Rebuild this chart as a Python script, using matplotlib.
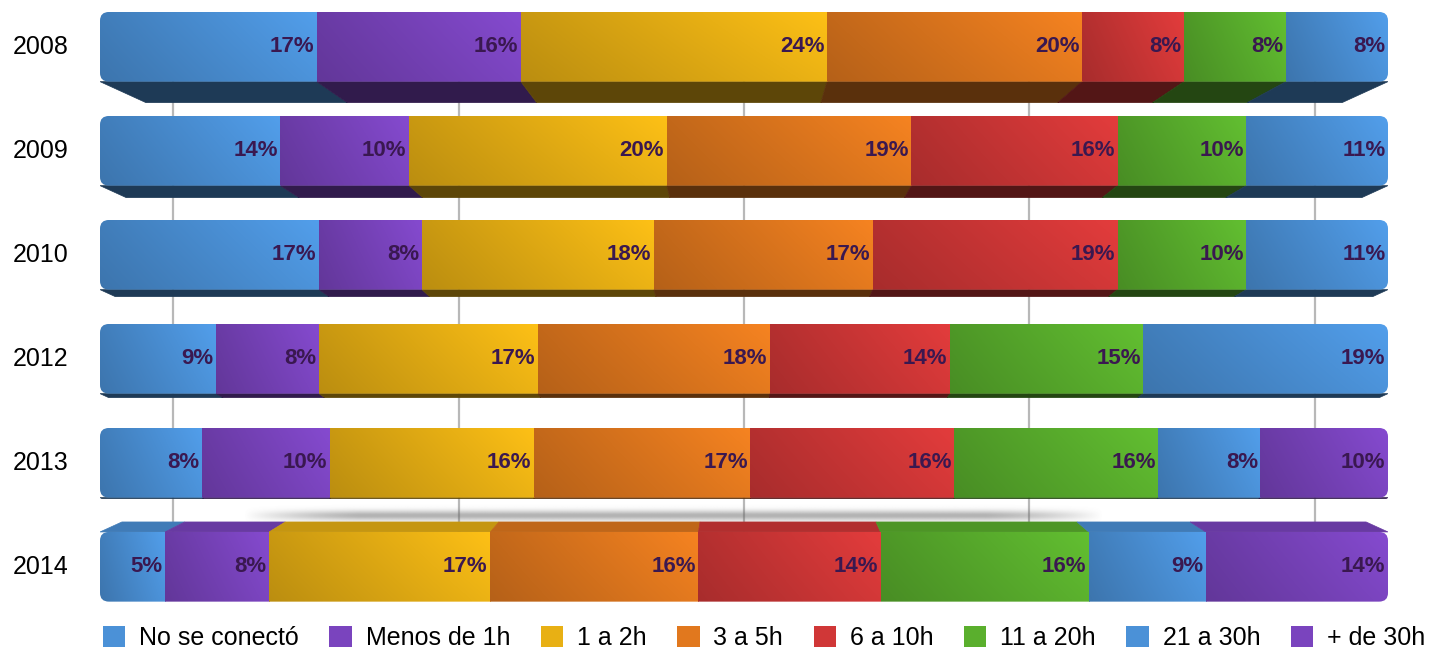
import numpy as np
import matplotlib
matplotlib.use('Agg')
import matplotlib.pyplot as plt
from matplotlib.patches import FancyBboxPatch, Polygon, Patch
from matplotlib.colors import to_rgb

plt.rcParams['font.family'] = ['Liberation Sans', 'DejaVu Sans']

# datos
years = ['2008', '2009', '2010', '2012', '2013', '2014']
categories = ['No se conectó', 'Menos de 1h', '1 a 2h', '3 a 5h',
              '6 a 10h', '11 a 20h', '21 a 30h', '+ de 30h']
no_conecto = [17, 14, 17, 9, 8, 5]
menos_1h = [16, 10, 8, 8, 10, 8]
h1_2 = [24, 20, 18, 17, 16, 17]
h3_5 = [20, 19, 17, 18, 17, 16]
h6_10 = [8, 16, 19, 14, 16, 14]
h11_20 = [8, 10, 10, 15, 16, 16]
h21_30 = [8, 11, 11, 19, 8, 9]
mas_30 = [0, 0, 0, 0, 10, 14]
series = [no_conecto, menos_1h, h1_2, h3_5, h6_10, h11_20, h21_30, mas_30]

colors = ['#4b91d7', '#7a44be', '#e8b014', '#e1781e',
          '#d03737', '#5aaf2d', '#4b91d7', '#7a44be']

# estilo 3D (profundidad del bisel en px, negativo = bisel superior)
depths = [21, 12, 7, 4, 1, -10]
bar_h = 0.67
row_px = 104.0

fig = plt.figure(figsize=(14.39, 6.53), dpi=100)
ax = fig.add_axes([100 / 1439, 29 / 653, 1288 / 1439, 624 / 653])
ax.set_xlim(0, 1)
ax.set_ylim(5.55, -0.45)
ax.axis('off')

# lineas de guia (plano posterior en perspectiva)
for v in [0, 0.25, 0.5, 0.75, 1.0]:
    gx = 0.5 + (v - 0.5) * 0.886
    ax.plot([gx, gx], [-0.3, 4.7], color='#b8b8b8', lw=1.6, zorder=0)

# sombra suave sobre la ultima barra
sh = np.zeros((40, 200, 4))
yy = np.linspace(-1, 1, 40)[:, None]
xx = np.linspace(-1, 1, 200)[None, :]
sh[..., :3] = 0.4
sh[..., 3] = 0.5 * np.exp(-(yy / 0.45) ** 2) * np.clip(1.4 - np.abs(xx) ** 4 * 1.4, 0, 1)
ax.imshow(sh, extent=(0.11, 0.78, 4.62, 4.40), aspect='auto',
          interpolation='bilinear', zorder=1)


def face_img(c):
    r = np.array(to_rgb(c))
    hx = np.linspace(0.85, 1.07, 80)[None, :, None]
    vy = np.linspace(1.02, 0.95, 20)[:, None, None]
    img = np.clip(r[None, None, :] * hx * vy, 0, 1)
    return img


for i, year in enumerate(years):
    vals = np.array([s[i] for s in series], dtype=float)
    frac = vals / vals.sum()
    lefts = np.concatenate([[0], np.cumsum(frac)[:-1]])
    top = i - bar_h / 2
    bot = i + bar_h / 2
    d = depths[i]
    scale = 1 - 0.0034 * abs(d)

    clip = FancyBboxPatch((0, top), 1, bar_h,
                          boxstyle='round,pad=0,rounding_size=0.007',
                          mutation_aspect=12, transform=ax.transData,
                          facecolor='none', edgecolor='none')
    ax.add_patch(clip)

    for j, (x0, w) in enumerate(zip(lefts, frac)):
        if w <= 0:
            continue
        x1 = x0 + w
        c = np.array(to_rgb(colors[j]))
        im = ax.imshow(face_img(colors[j]), extent=(x0, x1, bot, top),
                       aspect='auto', interpolation='bilinear', zorder=3)
        im.set_clip_path(clip)
        # bisel
        px0 = 0.5 + (x0 - 0.5) * scale
        px1 = 0.5 + (x1 - 0.5) * scale
        if d > 0:
            yb2 = bot + d / row_px
            poly = [(x0, bot), (x1, bot), (px1, yb2), (px0, yb2)]
            fc = c * 0.4
        else:
            yt2 = top + d / row_px
            poly = [(x0, top), (x1, top), (px1, yt2), (px0, yt2)]
            fc = c * 0.85
        ax.add_patch(Polygon(poly, closed=True, facecolor=fc,
                             edgecolor=fc, lw=0.5, zorder=2))
        ax.text(x1 - 0.002, i, f'{int(vals[j])}%', ha='right', va='center',
                fontsize=16, fontweight='bold', color='#3a1850', zorder=5)

    ax.text(-0.046, i, year, ha='center', va='center', fontsize=18,
            color='black')

handles = [Patch(facecolor=c, edgecolor='none', label=l)
           for c, l in zip(colors, categories)]
fig.legend(handles=handles, loc='center', bbox_to_anchor=(0.531, 15 / 653),
           ncol=8, frameon=False, fontsize=18, handlelength=0.9,
           handleheight=0.9, handletextpad=0.55, columnspacing=1.22)

fig.savefig('out.png', dpi=100)
